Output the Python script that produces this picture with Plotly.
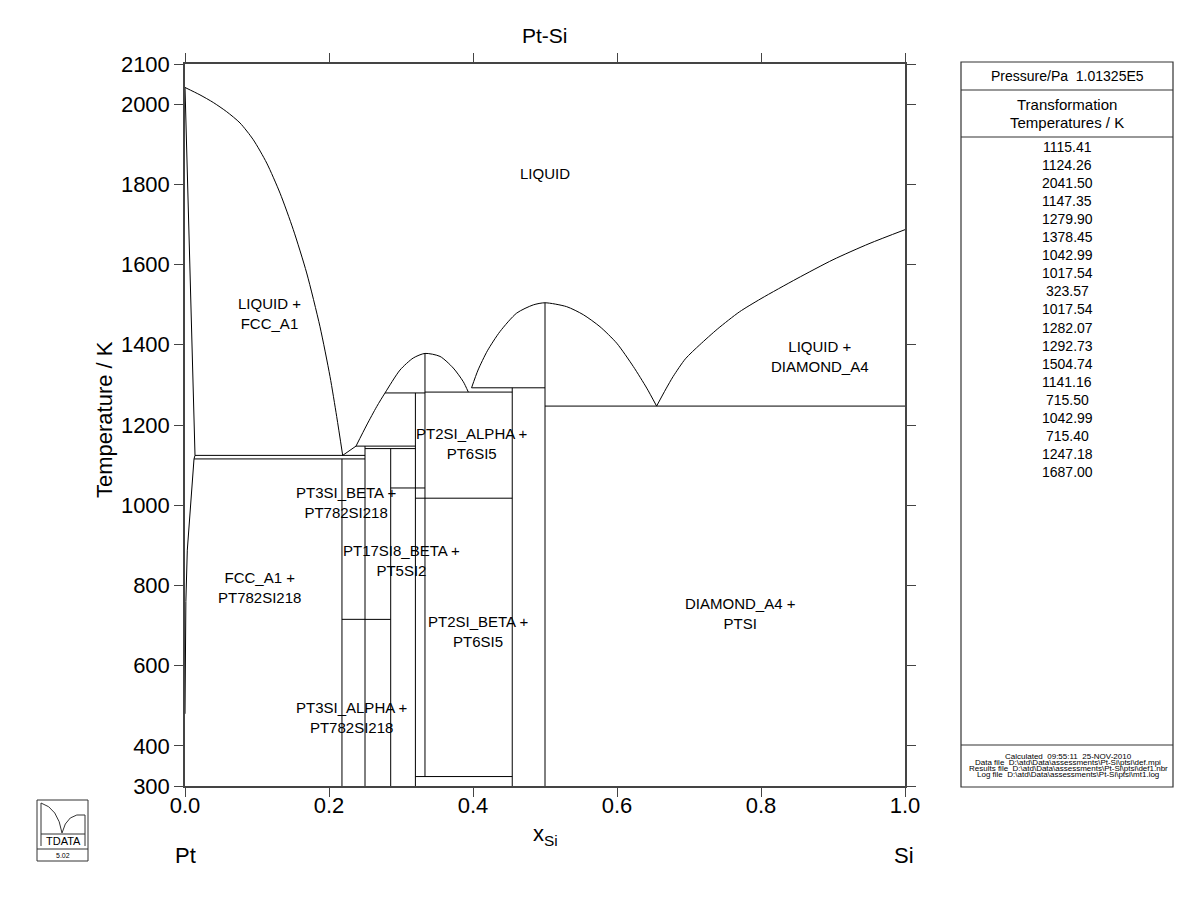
import plotly.graph_objects as go

FONT = "Liberation Sans, Arial, sans-serif"

# ---------------- data ----------------
# liquidus from Pt melting point down to eutectic
liq_pt_x = [0.0, 0.0208, 0.0393, 0.0579, 0.0764, 0.0949, 0.1135, 0.132, 0.1504, 0.169, 0.1875, 0.2014, 0.2107, 0.219]
liq_pt_T = [2041.5, 2023, 2004, 1981, 1953, 1911, 1853, 1778, 1687, 1579, 1445, 1321, 1221, 1124.26]

# FCC_A1 solidus + solvus
fcc_x = [0.0, 0.0139, 0.0125, 0.0083, 0.0032, 0.0012, 0.0004, 0.0]
fcc_T = [2041.5, 1124.26, 1115.41, 1000, 888, 760, 620, 480]

# short liquidus between the Pt-side eutectic and the 1147 K peritectic
liq_eut_x = [0.219, 0.2375]
liq_eut_T = [1124.26, 1147.35]

# liquidus around Pt2Si maximum
liq_pt2si_x = [0.2375, 0.2524, 0.2663, 0.2778, 0.2986, 0.317, 0.3333, 0.3542, 0.3726, 0.3865, 0.3935]
liq_pt2si_T = [1147.35, 1200, 1246, 1279.9, 1337, 1367, 1378.45, 1371, 1342, 1308, 1282.07]

# liquidus around PtSi
liq_ptsi_x = [0.398, 0.407, 0.42, 0.4375, 0.4607, 0.4838, 0.5, 0.5301, 0.5532, 0.5764, 0.5996, 0.6226, 0.6413, 0.655]
liq_ptsi_T = [1292.73, 1337, 1385, 1433, 1479, 1499.5, 1504.74, 1495, 1475, 1445, 1404, 1346, 1292, 1247.18]

# liquidus of Si
liq_si_x = [0.655, 0.668, 0.678, 0.695, 0.715, 0.74, 0.77, 0.8, 0.85, 0.9, 0.95, 1.0]
liq_si_T = [1247.18, 1290, 1321, 1365, 1400, 1440, 1482, 1515, 1565, 1612, 1652, 1687.0]

# invariant (horizontal) lines: temperature, x start, x end
inv_T = [1124.26, 1115.41, 1147.35, 1141.16, 1279.90, 1282.07, 1292.73, 1247.18, 1042.99, 1042.99, 1017.54, 1017.54, 715.50, 715.40, 323.57]
inv_x0 = [0.0139, 0.0125, 0.2375, 0.25, 0.2778, 0.3333, 0.398, 0.5, 0.2857, 0.32, 0.32, 0.3333, 0.218, 0.25, 0.32]
inv_x1 = [0.25, 0.25, 0.32, 0.32, 0.3333, 0.4545, 0.5, 1.0, 0.32, 0.3333, 0.3333, 0.4545, 0.25, 0.2857, 0.4545]

# stoichiometric compounds (vertical lines): x, top T, bottom T
comp_x = [0.218, 0.25, 0.2857, 0.32, 0.3333, 0.4545, 0.5]
comp_Ttop = [1115.41, 1147.35, 1141.16, 1279.90, 1378.45, 1292.73, 1504.74]
comp_Tbot = [300, 300, 300, 300, 323.57, 300, 300]

# region labels
lab_text = ["LIQUID", "LIQUID +<br>FCC_A1", "LIQUID +<br>DIAMOND_A4", "PT2SI_ALPHA +<br>PT6SI5",
            "PT3SI_BETA +<br>PT782SI218", "PT17SI8_BETA +<br>PT5SI2", "FCC_A1 +<br>PT782SI218",
            "PT2SI_BETA +<br>PT6SI5", "DIAMOND_A4 +<br>PTSI", "PT3SI_ALPHA +<br>PT782SI218"]
lab_x = [0.5, 0.118, 0.882, 0.399, 0.2236, 0.301, 0.103, 0.407, 0.771, 0.232]
lab_T = [1826, 1477, 1370, 1155, 1006, 861, 796, 684, 729, 470]

x_ticks = [0.0, 0.2, 0.4, 0.6, 0.8, 1.0]
y_ticks = [300, 400, 600, 800, 1000, 1200, 1400, 1600, 1800, 2000, 2100]

trans_temps = ["1115.41", "1124.26", "2041.50", "1147.35", "1279.90", "1378.45", "1042.99", "1017.54",
               "323.57", "1017.54", "1282.07", "1292.73", "1504.74", "1141.16", "715.50", "1042.99",
               "715.40", "1247.18", "1687.00"]

footer_lines = ["Calculated  09:55:11  25-NOV-2010",
                "Data file  D:\\atd\\Data\\assessments\\Pt-Si\\ptsi\\def.mpi",
                "Results file  D:\\atd\\Data\\assessments\\Pt-Si\\ptsi\\def1.nbr",
                "Log file  D:\\atd\\Data\\assessments\\Pt-Si\\ptsi\\mt1.log"]

# ---------------- layout geometry ----------------
W, H = 1200, 923
L, R, T, B = 185, 905, 64, 786   # plot area in pixels


def px(xp):
    return (xp - L) / (R - L)


def py(yp):
    return (B - yp) / (B - T)


fig = go.Figure()
line_style = dict(color="black", width=1)
curve_style = dict(color="black", width=1, shape="spline", smoothing=0.7)

for xs, ts in [(liq_pt_x, liq_pt_T), (liq_pt2si_x, liq_pt2si_T), (liq_ptsi_x, liq_ptsi_T), (liq_si_x, liq_si_T)]:
    fig.add_trace(go.Scatter(x=xs, y=ts, mode="lines", line=curve_style, hoverinfo="skip"))
for xs, ts in [(fcc_x, fcc_T), (liq_eut_x, liq_eut_T)]:
    fig.add_trace(go.Scatter(x=xs, y=ts, mode="lines", line=line_style, hoverinfo="skip"))

hx, hy = [], []
for t, a, b in zip(inv_T, inv_x0, inv_x1):
    hx += [a, b, None]
    hy += [t, t, None]
fig.add_trace(go.Scatter(x=hx, y=hy, mode="lines", line=line_style, hoverinfo="skip"))

vx, vy = [], []
for x, t1, t0 in zip(comp_x, comp_Ttop, comp_Tbot):
    vx += [x, x, None]
    vy += [t1, t0, None]
fig.add_trace(go.Scatter(x=vx, y=vy, mode="lines", line=line_style, hoverinfo="skip"))


def note(x, y, text, size, xanchor="center", **kw):
    return dict(x=x, y=y, xref="paper", yref="paper", text=text, showarrow=False,
                xanchor=xanchor, yanchor="middle",
                font=dict(family=FONT, size=size, color="black"), **kw)


annotations = []
for txt, x, t in zip(lab_text, lab_x, lab_T):
    annotations.append(dict(x=x, y=t, xref="x", yref="y", text=txt, showarrow=False,
                            xanchor="center", yanchor="middle",
                            font=dict(family=FONT, size=15, color="black"), align="center"))

# title & axis labels
annotations.append(note(0.5, py(36), "Pt-Si", 21))
annotations.append(note(px(105), py(420), "Temperature / K", 22, textangle=-90))
annotations.append(note(px(545), py(835), "x<sub>Si</sub>", 22))
annotations.append(note(px(173), py(855), "Pt", 22, xanchor="left"))
annotations.append(note(px(916), py(855), "Si", 22, xanchor="right"))

# side panel
PL, PR, PT_, PB = 961, 1173, 62, 787
shapes = [
    dict(type="rect", xref="paper", yref="paper", x0=px(PL), x1=px(PR), y0=py(PT_), y1=py(PB),
         line=dict(color="#333", width=1.2)),
]
for yy in [90, 137, 745]:
    shapes.append(dict(type="line", xref="paper", yref="paper", x0=px(PL), x1=px(PR), y0=py(yy), y1=py(yy),
                       line=dict(color="#333", width=1.2)))
cx = (PL + PR) / 2
annotations.append(note(px(cx), py(76), "Pressure/Pa  1.01325E5", 14))
annotations.append(note(px(cx), py(104), "Transformation", 15))
annotations.append(note(px(cx), py(122), "Temperatures / K", 15))
for i, s in enumerate(trans_temps):
    annotations.append(note(px(cx), py(147 + i * 18.05), s, 14))
for i, s in enumerate(footer_lines):
    annotations.append(note(px(cx + 1), py(756 + i * 6.0), s, 8))

# TDATA logo
LX0, LX1, LY0, LY1 = 37, 88, 800, 861
ln = dict(color="#333", width=1)
shapes.append(dict(type="rect", xref="paper", yref="paper", x0=px(LX0), x1=px(LX1), y0=py(LY0), y1=py(LY1), line=ln))
shapes.append(dict(type="line", xref="paper", yref="paper", x0=px(LX0), x1=px(LX1), y0=py(849), y1=py(849), line=ln))
shapes.append(dict(type="line", xref="paper", yref="paper", x0=px(41), x1=px(85), y0=py(834), y1=py(834), line=ln))
shapes.append(dict(type="line", xref="paper", yref="paper", x0=px(41), x1=px(41), y0=py(803), y1=py(846), line=ln))
shapes.append(dict(type="line", xref="paper", yref="paper", x0=px(85), x1=px(85), y0=py(815), y1=py(846), line=ln))
path = "M {},{} Q {},{} {},{} Q {},{} {},{}".format(
    px(41), py(803), px(58), py(808), px(62), py(833),
    px(67), py(812), px(85), py(815))
shapes.append(dict(type="path", xref="paper", yref="paper", path=path, line=ln))
annotations.append(note(px(63), py(841), "TDATA", 11))
annotations.append(note(px(63), py(855), "5.02", 7))

axis_common = dict(showline=True, linecolor="#444", linewidth=1.5, mirror="allticks", ticks="outside",
                   ticklen=9, tickcolor="#444", tickwidth=1, showgrid=False, zeroline=False,
                   tickfont=dict(family=FONT, size=22, color="black"))

fig.update_layout(
    width=W, height=H,
    margin=dict(l=L, r=W - R, t=T, b=H - B, pad=0),
    plot_bgcolor="white", paper_bgcolor="white",
    showlegend=False,
    xaxis=dict(range=[0, 1], tickvals=x_ticks, ticktext=["{:.1f}".format(v) for v in x_ticks],
               ticklabelstandoff=-10, **axis_common),
    yaxis=dict(range=[300, 2100], tickvals=y_ticks, ticktext=[str(v) for v in y_ticks], **axis_common),
    annotations=annotations,
    shapes=shapes,
)

fig.write_html("out.html")
